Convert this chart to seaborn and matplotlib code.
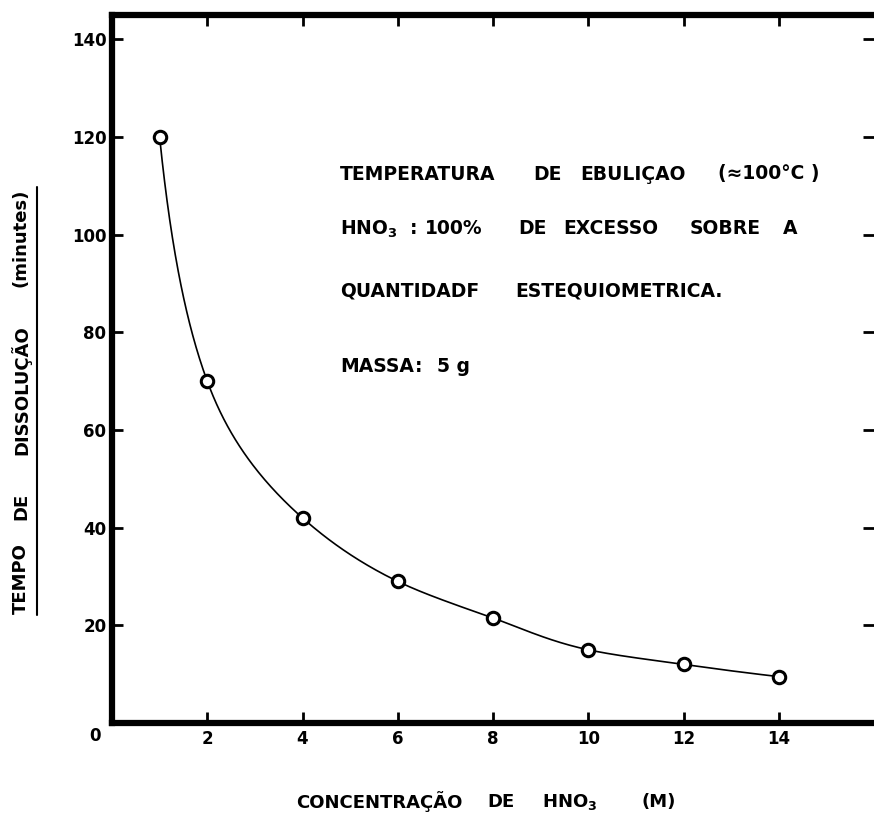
import numpy as np
import pandas as pd
import matplotlib
matplotlib.use("Agg")
import matplotlib.pyplot as plt
import seaborn as sns
from matplotlib.lines import Line2D

# ---- data ----
concentracao = [1, 2, 4, 6, 8, 10, 12, 14]          # HNO3 (M)
tempo = [120, 70, 42, 29, 21.5, 15, 12, 9.5]         # minutes
x_ticks = [2, 4, 6, 8, 10, 12, 14]
y_ticks = [20, 40, 60, 80, 100, 120, 140]

# annotation text, one list of words per line
note_lines = [
    ["TEMPERATURA", "DE", "EBULIÇAO", "(≈100°C )"],
    ["HNO$_\\mathbf{3}$", ":", "100%", "DE", "EXCESSO", "SOBRE", "A"],
    ["QUANTIDADF", "ESTEQUIOMETRICA."],
    ["MASSA", ":", "5 g"],
]
xlabel_words = ["CONCENTRAÇÃO", "DE", "HNO$_\\mathbf{3}$", "(M)"]
ylabel_words = ["TEMPO", "DE", "DISSOLUÇÃO", "(minutes)"]

# layout (pixel positions of the words)
note_x = [
    [340, 533, 580, 718],
    [340, 410, 425, 518, 563, 690, 783],
    [340, 515],
    [340, 415, 437],
]
note_y = [172, 227, 289, 364]
xlabel_x = [379, 501, 570, 659]
ylabel_y = [579, 506, 390, 238]


def pchip(x, y, xn):
    x = np.asarray(x, float); y = np.asarray(y, float)
    h = np.diff(x); d = np.diff(y) / h
    n = len(x); m = np.zeros(n)
    for k in range(1, n - 1):
        if d[k - 1] * d[k] > 0:
            w1 = 2 * h[k] + h[k - 1]; w2 = h[k] + 2 * h[k - 1]
            m[k] = (w1 + w2) / (w1 / d[k - 1] + w2 / d[k])
    def end(h0, h1, d0, d1):
        v = ((2 * h0 + h1) * d0 - h0 * d1) / (h0 + h1)
        if np.sign(v) != np.sign(d0):
            v = 0.0
        elif np.sign(d0) != np.sign(d1) and abs(v) > 3 * abs(d0):
            v = 3 * d0
        return v
    m[0] = end(h[0], h[1], d[0], d[1])
    m[-1] = end(h[-1], h[-2], d[-1], d[-2])
    idx = np.clip(np.searchsorted(x, xn) - 1, 0, n - 2)
    t = (xn - x[idx]) / h[idx]
    h00 = 2 * t**3 - 3 * t**2 + 1; h10 = t**3 - 2 * t**2 + t
    h01 = -2 * t**3 + 3 * t**2; h11 = t**3 - t**2
    return h00 * y[idx] + h10 * h[idx] * m[idx] + h01 * y[idx + 1] + h11 * h[idx] * m[idx + 1]


df = pd.DataFrame({"conc": concentracao, "tempo": tempo})
lx = np.log(df["conc"].values); ly = np.log(df["tempo"].values)
xs = np.linspace(lx.min(), lx.max(), 400)
curve = pd.DataFrame({"conc": np.exp(xs), "tempo": np.exp(pchip(lx, ly, xs))})

sns.set_style("ticks")
plt.rcParams["font.family"] = ["DejaVu Sans"]
plt.rcParams["font.weight"] = "bold"
plt.rcParams["mathtext.default"] = "bf"
plt.rcParams["text.color"] = "black"

W, H = 874, 816
fig = plt.figure(figsize=(W / 100, H / 100), dpi=100)
ax = fig.add_axes([112 / W, 1 - 723 / H, (874 - 112) / W, (723 - 15) / H])

sns.lineplot(data=curve, x="conc", y="tempo", ax=ax, color="black", lw=1.2, sort=False)
sns.scatterplot(data=df, x="conc", y="tempo", ax=ax, s=80, facecolor="white",
                edgecolor="black", linewidth=2.2, zorder=5)

ax.set_xlim(0, 16)
ax.set_ylim(0, 145)
ax.set_xticks(x_ticks)
ax.set_xticklabels([str(v) for v in x_ticks])
ax.set_yticks(y_ticks)
ax.set_yticklabels([str(v) for v in y_ticks])
ax.set_xlabel(""); ax.set_ylabel("")

for s in ["left", "bottom", "top"]:
    ax.spines[s].set_linewidth(4.5)
    ax.spines[s].set_color("black")
ax.spines["right"].set_visible(False)
ax.tick_params(axis="both", direction="in", length=8, width=2, labelsize=12,
               top=True, right=True, colors="black")
ax.tick_params(axis="x", pad=5)
ax.tick_params(axis="y", pad=4)

ax.annotate("0", xy=(0, 0), xycoords="data", xytext=(-12, -9.5),
            textcoords="offset points", ha="center", va="center",
            fontsize=12, fontweight="bold", annotation_clip=False)

for words, xs_, yp in zip(note_lines, note_x, note_y):
    for w, xp in zip(words, xs_):
        fig.text(xp / W, 1 - yp / H, w, ha="left", va="center_baseline",
                 fontsize=13.5, fontweight="bold")

for w, xp in zip(xlabel_words, xlabel_x):
    fig.text(xp / W, 1 - 800 / H, w, ha="center", va="center_baseline",
             fontsize=13, fontweight="bold")
for w, yp in zip(ylabel_words, ylabel_y):
    fig.text(21 / W, 1 - yp / H, w, ha="center", va="center",
             rotation=90, fontsize=13, fontweight="bold")
fig.add_artist(Line2D([37 / W, 37 / W], [1 - 187 / H, 1 - 615 / H],
                      transform=fig.transFigure, color="black", lw=1.5))

fig.savefig("out.png", dpi=100)
